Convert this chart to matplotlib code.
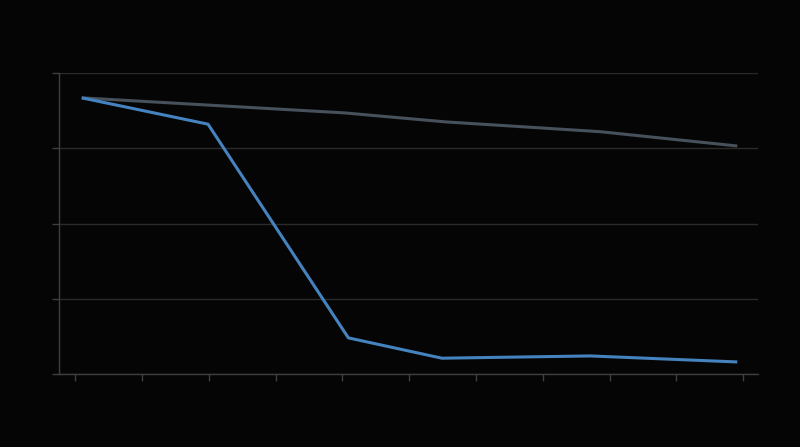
import matplotlib
matplotlib.use("Agg")
import matplotlib.pyplot as plt

# data
x_blue = [0.10, 1.99, 4.09, 5.49, 7.71, 9.91]
y_blue = [3.67, 3.32, 0.48, 0.21, 0.24, 0.16]
x_gray = [0.10, 4.03, 5.55, 7.86, 9.91]
y_gray = [3.67, 3.47, 3.35, 3.22, 3.03]
x_ticks = list(range(0, 11))
y_ticks = [0, 1, 2, 3, 4]

bg = "#050505"
fig = plt.figure(figsize=(8, 4.47), dpi=100, facecolor=bg)
ax = fig.add_axes([59/800, 1-374/447, (758-59)/800, (374-73)/447])
ax.set_facecolor(bg)

ax.plot(x_gray, y_gray, color="#46515b", lw=2.2, solid_capstyle="butt", zorder=3)
ax.plot(x_blue, y_blue, color="#4583bf", lw=2.2, solid_capstyle="butt", zorder=4)

ax.set_xlim(-0.24, 10.22)
ax.set_ylim(0, 4)
ax.set_xticks(x_ticks)
ax.set_yticks(y_ticks)
ax.set_xticklabels([])
ax.set_yticklabels([])
ax.grid(axis="y", color="#2a2a2a", lw=1)
ax.set_axisbelow(True)
for s in ["top", "right"]:
    ax.spines[s].set_visible(False)
for s in ["left", "bottom"]:
    ax.spines[s].set_color("#3e3e3e")
    ax.spines[s].set_linewidth(1)
ax.tick_params(axis="both", colors="#3e3e3e", length=5, width=1, direction="out")

fig.savefig("out.png", dpi=100, facecolor=bg)
